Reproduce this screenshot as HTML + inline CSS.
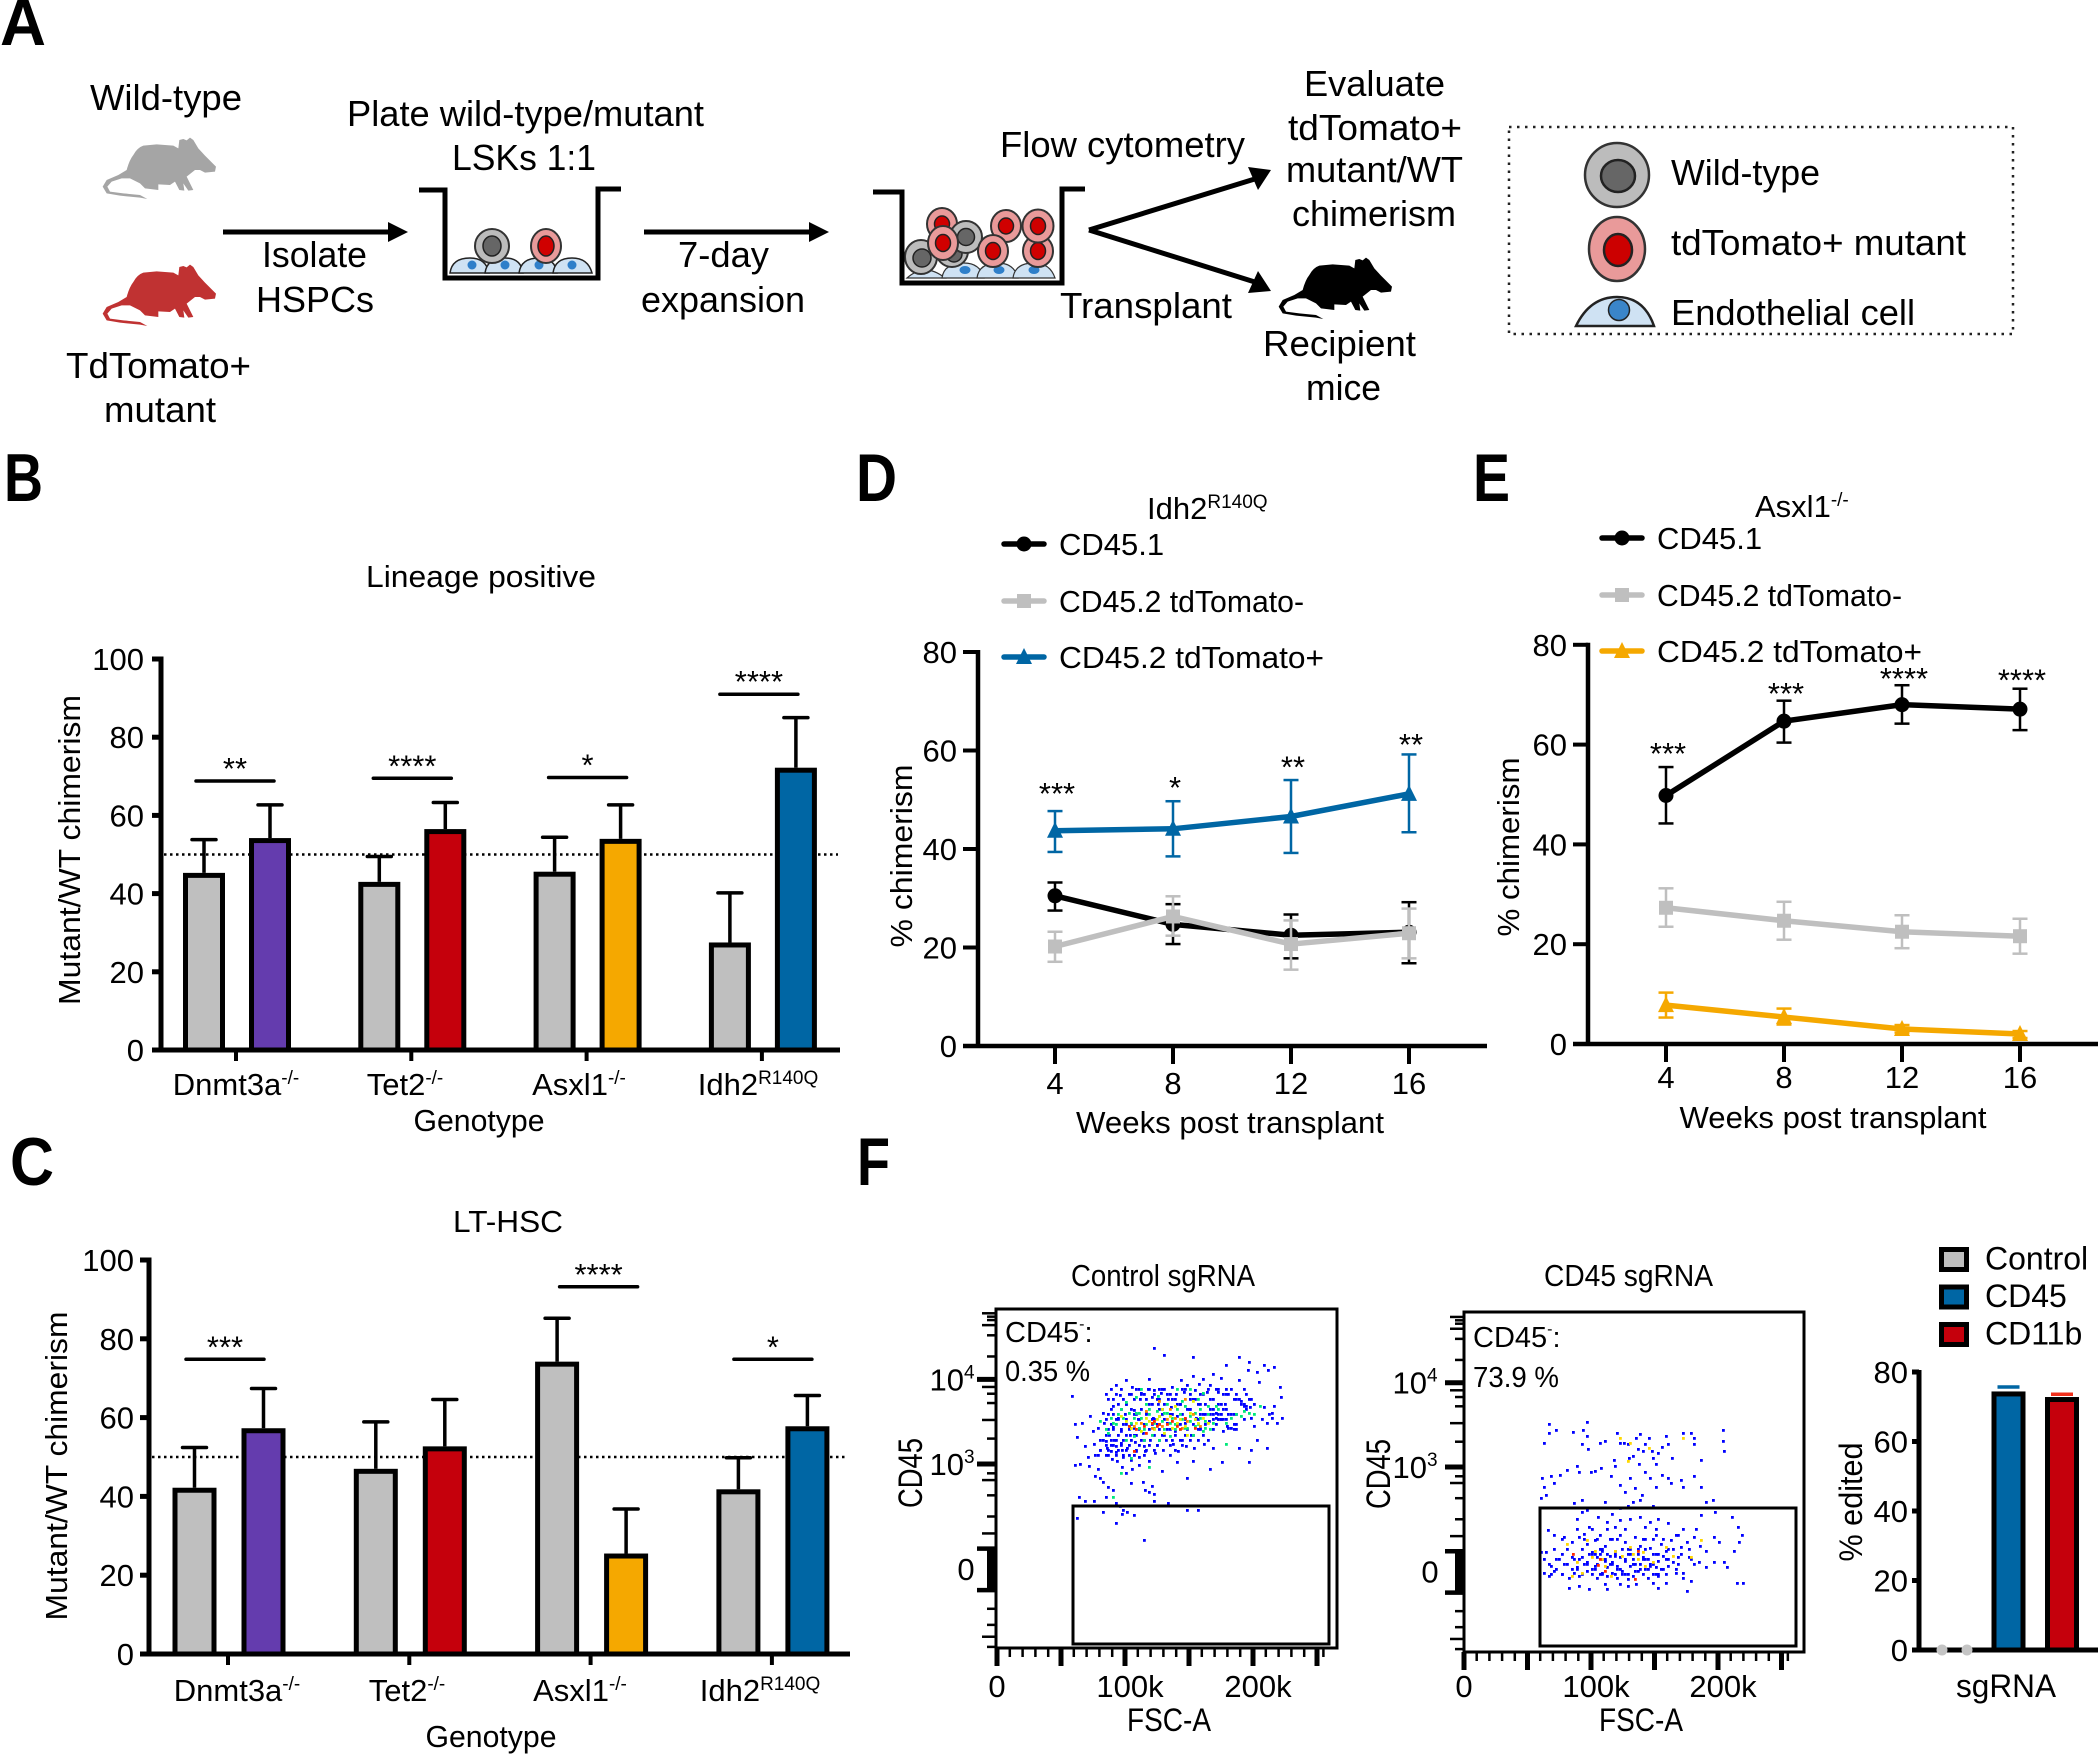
<!DOCTYPE html>
<html lang="en">
<head>
<meta charset="utf-8">
<title>Mutant/WT chimerism figure</title>
<style>
html,body{margin:0;padding:0;background:#fff;}
svg{display:block;font-family:"Liberation Sans",Arial,sans-serif;fill:#000;}
</style>
</head>
<body>
<svg id="fig" width="2100" height="1755" viewBox="0 0 2100 1755">
<rect x="0" y="0" width="2100" height="1755" fill="#fff"/>

<g font-weight="700">
<text x="0" y="45" font-size="66" textLength="46" lengthAdjust="spacingAndGlyphs">A</text>
<text x="4" y="501" font-size="68" textLength="39" lengthAdjust="spacingAndGlyphs">B</text>
<text x="10" y="1185" font-size="68" textLength="44" lengthAdjust="spacingAndGlyphs">C</text>
<text x="856" y="501" font-size="68" textLength="41" lengthAdjust="spacingAndGlyphs">D</text>
<text x="1473" y="501" font-size="68" textLength="37" lengthAdjust="spacingAndGlyphs">E</text>
<text x="857" y="1185" font-size="68" textLength="33" lengthAdjust="spacingAndGlyphs">F</text>
</g>

<g font-size="36">
<text x="90" y="110" textLength="152" lengthAdjust="spacingAndGlyphs">Wild-type</text>
<text x="347" y="126" textLength="357" lengthAdjust="spacingAndGlyphs">Plate wild-type/mutant</text>
<text x="452" y="170" textLength="144" lengthAdjust="spacingAndGlyphs">LSKs 1:1</text>
<text x="262" y="267" textLength="105" lengthAdjust="spacingAndGlyphs">Isolate</text>
<text x="256" y="312" textLength="118" lengthAdjust="spacingAndGlyphs">HSPCs</text>
<text x="678" y="267" textLength="91" lengthAdjust="spacingAndGlyphs">7-day</text>
<text x="641" y="312" textLength="164" lengthAdjust="spacingAndGlyphs">expansion</text>
<text x="66" y="378" textLength="185" lengthAdjust="spacingAndGlyphs">TdTomato+</text>
<text x="104" y="422" textLength="112" lengthAdjust="spacingAndGlyphs">mutant</text>
<text x="1000" y="157" textLength="245" lengthAdjust="spacingAndGlyphs">Flow cytometry</text>
<text x="1304" y="96" textLength="141" lengthAdjust="spacingAndGlyphs">Evaluate</text>
<text x="1288" y="140" textLength="174" lengthAdjust="spacingAndGlyphs">tdTomato+</text>
<text x="1286" y="182" textLength="177" lengthAdjust="spacingAndGlyphs">mutant/WT</text>
<text x="1292" y="226" textLength="164" lengthAdjust="spacingAndGlyphs">chimerism</text>
<text x="1060" y="318" textLength="172" lengthAdjust="spacingAndGlyphs">Transplant</text>
<text x="1263" y="356" textLength="153" lengthAdjust="spacingAndGlyphs">Recipient</text>
<text x="1306" y="400" textLength="75" lengthAdjust="spacingAndGlyphs">mice</text>

<path transform="translate(90,125) scale(.3333)" fill="#a5a5a5" d="M110 135 Q118 105 130 90 Q142 68 160 62 L200 58 L250 62 L265 70 L268 45 L280 42 L290 46 L300 38 L310 45 L325 70 L345 92 L378 125 L375 140 L345 143 L330 135 L315 135 L290 155 L310 195 L295 197 L280 175 L283 197 L268 195 L255 170 L240 180 L205 178 L205 195 L165 190 L150 175 L120 160 L95 160 L65 170 L52 185 L60 200 L100 205 L150 210 L172 222 L150 218 L90 212 L50 205 L38 185 L50 165 L85 150 Z"/>
<path transform="translate(90,252) scale(.3333)" fill="#c03232" d="M110 135 Q118 105 130 90 Q142 68 160 62 L200 58 L250 62 L265 70 L268 45 L280 42 L290 46 L300 38 L310 45 L325 70 L345 92 L378 125 L375 140 L345 143 L330 135 L315 135 L290 155 L310 195 L295 197 L280 175 L283 197 L268 195 L255 170 L240 180 L205 178 L205 195 L165 190 L150 175 L120 160 L95 160 L65 170 L52 185 L60 200 L100 205 L150 210 L172 222 L150 218 L90 212 L50 205 L38 185 L50 165 L85 150 Z"/>
<path transform="translate(1266,245) scale(.3333)" fill="#000" d="M110 135 Q118 105 130 90 Q142 68 160 62 L200 58 L250 62 L265 70 L268 45 L280 42 L290 46 L300 38 L310 45 L325 70 L345 92 L378 125 L375 140 L345 143 L330 135 L315 135 L290 155 L310 195 L295 197 L280 175 L283 197 L268 195 L255 170 L240 180 L205 178 L205 195 L165 190 L150 175 L120 160 L95 160 L65 170 L52 185 L60 200 L100 205 L150 210 L172 222 L150 218 L90 212 L50 205 L38 185 L50 165 L85 150 Z"/>

<g>
<line x1="223" y1="232" x2="395" y2="232" stroke="#000" stroke-width="5"/>
<polygon points="388,222 408,232 388,242" fill="#000"/>
</g>
<g>
<line x1="644" y1="232" x2="815" y2="232" stroke="#000" stroke-width="5"/>
<polygon points="809,222 829,232 809,242" fill="#000"/>
</g>
<g>
<line x1="1089" y1="230" x2="1258" y2="178" stroke="#000" stroke-width="5"/>
<line x1="1089" y1="230" x2="1258" y2="283" stroke="#000" stroke-width="5"/>
<polygon points="1248,167 1271,170 1258,190" fill="#000"/>
<polygon points="1258,271 1271,291 1248,293" fill="#000"/>
</g>

<g>
<g fill="#cfe2f3" stroke="#222" stroke-width="1.5">
<path d="M450 273 Q452 258 470 258 Q486 258 489 273 Z"/>
<path d="M485 273 Q487 258 505 258 Q521 258 523 273 Z"/>
<path d="M519 273 Q521 258 539 258 Q555 258 557 273 Z"/>
<path d="M553 273 Q555 258 572 258 Q588 258 592 273 Z"/>
</g>
<g fill="#2f7fc9">
<circle cx="472" cy="265" r="4.5"/>
<circle cx="505" cy="265" r="4.5"/>
<circle cx="539" cy="265" r="4.5"/>
<circle cx="572" cy="265" r="4.5"/>
</g>
<ellipse cx="492" cy="246" rx="17" ry="17" fill="#bcbcbc" stroke="#333" stroke-width="2"/>
<ellipse cx="492" cy="246" rx="9" ry="10" fill="#666" stroke="#222" stroke-width="1.5"/>
<ellipse cx="546" cy="246" rx="15" ry="17" fill="#e99a9a" stroke="#333" stroke-width="2"/>
<ellipse cx="546" cy="246" rx="8" ry="10" fill="#d00000" stroke="#222" stroke-width="1.5"/>
<polyline points="419,190 445,190 445,278 598,278 598,189 621,189" fill="none" stroke="#000" stroke-width="5"/>
</g>

<g>
<g fill="#cfe2f3" stroke="#333" stroke-width="1.2">
<path d="M907 278 Q925 262 945 278 Z"/>
<path d="M942 278 Q944 263 964 263 Q980 263 984 278 Z"/>
<path d="M977 278 Q979 263 998 263 Q1014 263 1018 278 Z"/>
<path d="M1013 278 Q1015 263 1034 263 Q1050 263 1055 278 Z"/>
</g>
<g fill="#2f7fc9">
<ellipse cx="965" cy="270" rx="5.5" ry="4"/>
<ellipse cx="999" cy="270" rx="5.5" ry="4"/>
<ellipse cx="1034" cy="270" rx="5.5" ry="4"/>
</g>
<circle cx="952" cy="251" r="16" fill="#bcbcbc" stroke="#333" stroke-width="2"/>
<circle cx="954" cy="254" r="8" fill="#666" stroke="#222" stroke-width="1.5"/>
<ellipse cx="921" cy="257" rx="16" ry="17" fill="#bcbcbc" stroke="#333" stroke-width="2"/>
<circle cx="922" cy="258" r="9" fill="#666" stroke="#222" stroke-width="1.5"/>
<ellipse cx="942" cy="224" rx="15" ry="16" fill="#e99a9a" stroke="#333" stroke-width="2"/>
<ellipse cx="942" cy="224" rx="7.5" ry="8" fill="#d00000" stroke="#222" stroke-width="1.5"/>
<circle cx="966" cy="237" r="16" fill="#bcbcbc" stroke="#333" stroke-width="2"/>
<circle cx="966" cy="237" r="8.5" fill="#666" stroke="#222" stroke-width="1.5"/>
<ellipse cx="943" cy="243" rx="15" ry="17" fill="#e99a9a" stroke="#333" stroke-width="2"/>
<ellipse cx="943" cy="243" rx="7.5" ry="8.5" fill="#d00000" stroke="#222" stroke-width="1.5"/>
<ellipse cx="1006" cy="226" rx="15" ry="16" fill="#e99a9a" stroke="#333" stroke-width="2"/>
<ellipse cx="1006" cy="226" rx="7.5" ry="8" fill="#d00000" stroke="#222" stroke-width="1.5"/>
<ellipse cx="993" cy="251" rx="15" ry="16" fill="#e99a9a" stroke="#333" stroke-width="2"/>
<ellipse cx="993" cy="251" rx="7.5" ry="8.5" fill="#d00000" stroke="#222" stroke-width="1.5"/>
<ellipse cx="1038" cy="251" rx="15" ry="16" fill="#e99a9a" stroke="#333" stroke-width="2"/>
<ellipse cx="1038" cy="251" rx="7.5" ry="8.5" fill="#d00000" stroke="#222" stroke-width="1.5"/>
<ellipse cx="1038" cy="226" rx="15.5" ry="16.5" fill="#e99a9a" stroke="#333" stroke-width="2"/>
<ellipse cx="1038" cy="226" rx="7.5" ry="8.5" fill="#d00000" stroke="#222" stroke-width="1.5"/>
<polyline points="873,192 902,192 902,283 1062,283 1062,189 1085,189" fill="none" stroke="#000" stroke-width="5"/>
</g>

<g>
<rect x="1509" y="127" width="504" height="207" fill="none" stroke="#222" stroke-width="2.5" stroke-dasharray="2.5 5.5"/>
<ellipse cx="1617" cy="175" rx="32" ry="32" fill="#bcbcbc" stroke="#333" stroke-width="2.5"/>
<ellipse cx="1618" cy="176" rx="17" ry="16" fill="#666" stroke="#222" stroke-width="2.5"/>
<ellipse cx="1617" cy="249" rx="28" ry="32" fill="#e99a9a" stroke="#333" stroke-width="2.5"/>
<ellipse cx="1618" cy="250" rx="14" ry="16" fill="#cc0000" stroke="#222" stroke-width="2.5"/>
<path d="M1576 326 Q1590 297 1617 297 Q1644 297 1654 326 Z" fill="#cfe2f3" stroke="#222" stroke-width="2.5"/>
<circle cx="1619" cy="310" r="10.5" fill="#3a85c9" stroke="#222" stroke-width="1.5"/>
<text x="1671" y="185" textLength="149" lengthAdjust="spacingAndGlyphs">Wild-type</text>
<text x="1671" y="255" textLength="295" lengthAdjust="spacingAndGlyphs">tdTomato+ mutant</text>
<text x="1671" y="325" textLength="244" lengthAdjust="spacingAndGlyphs">Endothelial cell</text>
</g>
</g>

<g id="panel-b">
<text x="366" y="587" font-size="31" textLength="230" lengthAdjust="spacingAndGlyphs">Lineage positive</text>
<text transform="translate(80,850) rotate(-90)" text-anchor="middle" font-size="31" textLength="310" lengthAdjust="spacingAndGlyphs">Mutant/WT chimerism</text>
<text x="479" y="1131" text-anchor="middle" font-size="31" textLength="131" lengthAdjust="spacingAndGlyphs">Genotype</text>
</g>
<g id="panel-c">
<text x="453" y="1232" font-size="31" textLength="110" lengthAdjust="spacingAndGlyphs">LT-HSC</text>
<text transform="translate(67,1466) rotate(-90)" text-anchor="middle" font-size="31" textLength="309" lengthAdjust="spacingAndGlyphs">Mutant/WT chimerism</text>
<text x="491" y="1747" text-anchor="middle" font-size="31" textLength="131" lengthAdjust="spacingAndGlyphs">Genotype</text>
</g>
<g id="panel-d">
<text x="1147" y="519" font-size="31">Idh2<tspan font-size="19" dy="-11">R140Q</tspan></text>
<text transform="translate(912,856) rotate(-90)" text-anchor="middle" font-size="31" textLength="183" lengthAdjust="spacingAndGlyphs">% chimerism</text>
<text x="1230" y="1133" text-anchor="middle" font-size="31" textLength="308" lengthAdjust="spacingAndGlyphs">Weeks post transplant</text>
</g>
<g id="panel-e">
<text x="1755" y="517" font-size="31">Asxl1<tspan font-size="19" dy="-11">-/-</tspan></text>
<text transform="translate(1519,847) rotate(-90)" text-anchor="middle" font-size="31" textLength="179" lengthAdjust="spacingAndGlyphs">% chimerism</text>
<text x="1833" y="1128" text-anchor="middle" font-size="31" textLength="307" lengthAdjust="spacingAndGlyphs">Weeks post transplant</text>
</g>
<g id="panel-f-control">
<text x="1071" y="1286" font-size="31" textLength="184" lengthAdjust="spacingAndGlyphs">Control sgRNA</text>
<text transform="translate(922,1473) rotate(-90)" text-anchor="middle" font-size="34" textLength="70" lengthAdjust="spacingAndGlyphs">CD45</text>
<text x="1169" y="1731" text-anchor="middle" font-size="32" textLength="84" lengthAdjust="spacingAndGlyphs">FSC-A</text>
<text x="1005" y="1342" font-size="29">CD45<tspan font-size="16" dy="-13">-</tspan><tspan dy="13">:</tspan></text>
<text x="1005" y="1381" font-size="29" textLength="85" lengthAdjust="spacingAndGlyphs">0.35 %</text>
</g>
<g id="panel-f-cd45">
<text x="1544" y="1286" font-size="31" textLength="169" lengthAdjust="spacingAndGlyphs">CD45 sgRNA</text>
<text transform="translate(1390,1474) rotate(-90)" text-anchor="middle" font-size="34" textLength="70" lengthAdjust="spacingAndGlyphs">CD45</text>
<text x="1641" y="1731" text-anchor="middle" font-size="32" textLength="84" lengthAdjust="spacingAndGlyphs">FSC-A</text>
<text x="1473" y="1347" font-size="29">CD45<tspan font-size="16" dy="-13">-</tspan><tspan dy="13">:</tspan></text>
<text x="1473" y="1387" font-size="29" textLength="86" lengthAdjust="spacingAndGlyphs">73.9 %</text>
</g>
<g id="panel-g">
<text transform="translate(1862,1502) rotate(-90)" text-anchor="middle" font-size="32" textLength="119" lengthAdjust="spacingAndGlyphs">% edited</text>
<text x="2006" y="1697" text-anchor="middle" font-size="32" textLength="100" lengthAdjust="spacingAndGlyphs">sgRNA</text>
</g>
</svg>

<script>
/* ---------- Panel B data ---------- */
const genotypeNames = ['Dnmt3a', 'Tet2', 'Asxl1', 'Idh2'];
const genotypeSupers = ['-/-', '-/-', '-/-', 'R140Q'];
const percentTicks = [0, 20, 40, 60, 80, 100];
const bWild = [45.3, 43, 45.6, 27.5];
const bMutant = [54.2, 56.5, 54, 72.2];
const bWildHi = [53.8, 49.5, 54.4, 40.2];
const bMutantHi = [62.7, 63.3, 62.7, 85];
const bStars = ['**', '****', '*', '****'];
const bSigLevels = [68.8, 69.5, 69.7, 91];
const bMutantColors = ['#643cae', '#c5000c', '#f5a800', '#0066a4'];

/* ---------- Panel C data ---------- */
const cWild = [42.2, 47, 74.2, 41.8];
const cMutant = [57.3, 52.7, 25.5, 57.8];
const cWildHi = [52.4, 58.9, 85.2, 49.8];
const cMutantHi = [67.4, 64.6, 36.8, 65.6];
const cStars = ['***', '', '****', '*'];
const cSigLevels = [74.8, 0, 93.2, 74.8];

/* ---------- Panels D and E data ---------- */
const weeks = [4, 8, 12, 16];
const chimerismTicks = [0, 20, 40, 60, 80];
const dBlackMean = [30.5, 24.7, 22.5, 23.1];
const dBlackHi = [33.2, 28.8, 26.7, 29.2];
const dBlackLo = [27.5, 20.7, 17.8, 16.8];
const dGrayMean = [20.2, 26.3, 20.7, 22.9];
const dGrayHi = [23.2, 30.4, 25.5, 27.9];
const dGrayLo = [17.1, 22.4, 15.5, 17.8];
const dBlueMean = [43.7, 44.1, 46.6, 51.2];
const dBlueHi = [47.7, 49.7, 54, 59.2];
const dBlueLo = [39.4, 38.5, 39.2, 43.4];
const dStars = ['***', '*', '**', '**'];
const dStarLevels = [52.6, 53.8, 58, 62.5];
const eBlackMean = [49.8, 64.7, 68, 67.1];
const eBlackHi = [55.5, 68.8, 71.9, 71.2];
const eBlackLo = [44.2, 60.4, 64.2, 62.9];
const eGrayMean = [27.3, 24.7, 22.5, 21.6];
const eGrayHi = [31.2, 28.5, 25.8, 25.1];
const eGrayLo = [23.5, 20.9, 19.2, 18.1];
const eOrangeMean = [7.8, 5.4, 3, 2];
const eOrangeHi = [10.3, 7.1, 3.8, 2.6];
const eOrangeLo = [5.3, 3.9, 2.3, 1.2];
const eStars = ['***', '***', '****', '****'];
const eStarLevels = [59.5, 71.5, 74.5, 74.2];
const seriesNames = ['CD45.1', 'CD45.2 tdTomato-', 'CD45.2 tdTomato+'];

/* ---------- Panel F percent-edited data ---------- */
const editedTicks = [0, 20, 40, 60, 80];
const editedControl = [0, 0];
const editedNames = ['CD45', 'CD11b'];
const editedValues = [74.4, 72.8];
const editedHi = [75.7, 73.6];
const editedLegend = ['Control', 'CD45', 'CD11b'];

/* ---------- Flow plot axes and events: [FSC-A in thousands, biexponential CD45 decades] ---------- */
const flowXMajor = [0, 50, 100, 150, 200, 250];
const flowXMinor = [10, 20, 30, 40, 60, 70, 80, 90, 110, 120, 130, 140, 160, 170, 180, 190, 210, 220, 230, 240, 255];
const flowYMinor = [4.78, 4.74, 4.70, 4.64, 4.52, 4.27, 3.91, 3.83, 3.72, 3.52, 3.30, 2.89, 2.81, 2.63, 2.38, 2.18, 1.29, 1.10, 0.96, 0.84];
const flowXLabels = ['0', '100k', '200k'];
const controlBlue = [[60,3.0],[64,3.01],[71,2.99],[78,2.95],[63,2.62],[68,2.58],[75,2.58],[76,2.87],[80,2.85],[82,2.8],[86,2.74],[90,2.7],[84,2.62],[92,2.55],[95,2.52],[98,2.47],[97,2.42],[101,2.44],[106,2.41],[82,2.44],[62,2.37],[92,2.32],[114,2.11],[120,2.75],[113,2.8],[115,2.7],[118,2.68],[122,2.66],[128,2.93],[122,2.58],[133,2.55],[148,2.47],[156,2.47],[140,3.03],[152,3.05],[166,2.95],[175,3.03],[148,2.85],[105,2.95],[100,2.9],[97,2.98],[110,3.0],[104,2.79],
[58,3.81],[60,3.48],[62,3.33],[66,3.5],[68,3.22],[70,3.1],[72,3.58],[74,3.4],[75,3.25],[76,3.12],[78,3.44],[80,3.3],[80,3.18],[82,3.62],[83,3.5],[84,3.28],[85,3.2],[86,3.12],[87,3.35],[88,3.24],[88,3.16],[89,3.07],[90,3.7],[90,3.45],[91,3.3],[92,3.22],[92,3.15],[93,3.05],[94,3.55],[95,3.83],[96,3.4],[96,3.26],[97,3.18],[98,3.1],[99,3.6],[100,3.72],[100,3.48],[101,3.2],[102,3.12],[103,3.36],[104,3.06],[105,3.92],[106,3.65],[106,3.44],[107,3.27],[108,3.17],[109,3.54],[110,3.1],[111,3.78],[112,3.85],[113,3.38],[114,3.22],[115,3.16],[116,3.62],[117,3.9],[118,3.05],[119,3.3],[120,3.48],[120,3.8],[121,3.55],[122,3.88],[123,3.14],[124,3.24],[125,3.72],[126,3.42],[127,3.85],[128,3.6],[129,3.18],[130,3.9],[131,3.3],[132,3.5],[133,3.78],[134,3.12],[135,3.68],[136,3.92],[137,3.25],[138,3.4],[139,3.84],[140,3.58],[141,3.16],[142,3.72],[143,4.0],[144,3.3],[145,3.86],[146,3.5],[147,3.22],[148,3.94],[149,3.66],[150,3.78],[151,3.36],[152,4.05],[153,3.2],[154,3.88],[155,3.56],[156,3.3],[157,3.96],[158,3.72],[158,3.44],[160,4.02],[161,3.25],[162,3.6],[163,3.86],[164,3.3],[165,3.52],[166,3.94],[166,3.6],[168,3.6],[168,3.54],[170,3.62],[170,3.56],[172,3.6],[172,3.54],[174,3.6],[174,3.54],[172,3.86],[174,4.03],[176,3.4],[177,3.72],[178,3.9],[179,3.46],[180,3.44],[182,3.44],[184,3.42],[186,3.42],[186,3.78],[188,4.0],[190,3.75],[192,3.7],[194,3.7],[196,4.22],[197,3.68],[198,3.55],[200,3.46],[202,4.1],[202,3.3],[204,3.98],[206,3.54],[208,3.68],[210,3.5],[212,3.6],[214,3.62],[214,3.56],[216,3.7],[216,4.16],[218,3.5],[221,3.8],[222,3.56],[211,4.12],[100,4.0],[92,3.95],[118,4.02],[122,4.38],[130,4.3],[152,4.28],[168,4.08],[178,4.18],[188,4.28],[195,4.12],[208,4.18],[220,3.92],[168,3.2],[188,3.2],[198,3.18],[196,3.03],[210,3.2]];
const controlBlueCore = [[88,3.9],[96,3.9],[108,3.9],[110,3.9],[118,3.9],[126,3.9],[128,3.9],[144,3.9],[146,3.9],[164,3.9],[170,3.9],[172,3.9],[182,3.9],[192,3.9],
[84,3.84],[92,3.84],[102,3.84],[104,3.84],[112,3.84],[114,3.84],[122,3.84],[132,3.84],[134,3.84],[150,3.84],[158,3.84],[160,3.84],[176,3.84],[178,3.84],[180,3.84],[186,3.84],[194,3.84],
[86,3.78],[90,3.78],[98,3.78],[106,3.78],[116,3.78],[124,3.78],[126,3.78],[136,3.78],[138,3.78],[152,3.78],[154,3.78],[166,3.78],[168,3.78],[184,3.78],[188,3.78],[196,3.78],[198,3.78],
[94,3.72],[100,3.72],[118,3.72],[120,3.72],[130,3.72],[140,3.72],[142,3.72],[156,3.72],[162,3.72],[172,3.72],[174,3.72],[190,3.72],[192,3.72],[200,3.72],
[88,3.66],[96,3.66],[104,3.66],[112,3.66],[126,3.66],[128,3.66],[148,3.66],[150,3.66],[166,3.66],[168,3.66],[176,3.66],[178,3.66],[194,3.66],
[86,3.6],[90,3.6],[106,3.6],[108,3.6],[116,3.6],[134,3.6],[136,3.6],[144,3.6],[158,3.6],[160,3.6],[180,3.6],[182,3.6],[184,3.6],[186,3.6],
[84,3.54],[92,3.54],[94,3.54],[100,3.54],[110,3.54],[120,3.54],[122,3.54],[130,3.54],[146,3.54],[154,3.54],[156,3.54],[172,3.54],[174,3.54],[176,3.54],[178,3.54],[192,3.54],
[88,3.48],[98,3.48],[104,3.48],[114,3.48],[124,3.48],[126,3.48],[140,3.48],[142,3.48],[152,3.48],[162,3.48],[170,3.48],[184,3.48],[186,3.48],
[86,3.42],[90,3.42],[96,3.42],[102,3.42],[110,3.42],[118,3.42],[132,3.42],[134,3.42],[148,3.42],[156,3.42],[158,3.42],[168,3.42],
[84,3.36],[94,3.36],[100,3.36],[106,3.36],[108,3.36],[122,3.36],[128,3.36],[130,3.36],[138,3.36],[146,3.36],[152,3.36],[160,3.36],
[82,3.3],[88,3.3],[92,3.3],[98,3.3],[104,3.3],[112,3.3],[114,3.3],[126,3.3],[136,3.3],[142,3.3],[150,3.3],
[84,3.24],[90,3.24],[96,3.24],[102,3.24],[110,3.24],[118,3.24],[124,3.24],[134,3.24],[144,3.24],
[80,3.18],[86,3.18],[94,3.18],[100,3.18],[108,3.18],[116,3.18],[122,3.18],[138,3.18],
[78,3.12],[84,3.12],[92,3.12],[98,3.12],[106,3.12],[114,3.12]];
const controlGreen = [[80,3.52],[84,3.42],[88,3.56],[92,3.48],[94,3.6],[98,3.55],[100,3.3],[102,3.62],[104,3.5],[106,3.34],[108,3.62],[110,3.44],[112,3.56],[114,3.3],[116,3.48],[118,3.6],[120,3.36],[122,3.5],[124,3.64],[126,3.3],[128,3.52],[130,3.42],[132,3.62],[134,3.34],[136,3.56],[138,3.48],[140,3.66],[142,3.42],[144,3.54],[146,3.7],[148,3.44],[150,3.58],[152,3.36],[154,3.62],[156,3.48],[158,3.66],[160,3.4],[162,3.52],[164,3.7],[166,3.42],[170,3.7],[178,3.5],[186,3.6],[196,3.62],[108,3.8],[112,3.9],[125,3.82],[140,3.9],[150,3.9],[160,3.85],[104,3.08],[96,2.9],[118,2.98],[90,2.62],[178,3.25],[190,3.58],[205,3.7],
[102,3.46],[106,3.56],[110,3.62],[114,3.42],[118,3.66],[122,3.44],[126,3.58],[130,3.62],[134,3.5],[138,3.42],[142,3.6],[146,3.44],[150,3.52],[154,3.46],[158,3.56],[162,3.44],[164,3.6],[168,3.5],[172,3.66],[182,3.56],[192,3.64],[200,3.6],[96,3.66],[100,3.74],[116,3.72],[132,3.72],[144,3.76],[156,3.78],[90,3.5],[86,3.38]];
const controlYellow = [[96,3.58],[104,3.44],[112,3.4],[118,3.52],[122,3.42],[126,3.58],[130,3.38],[136,3.44],[140,3.5],[146,3.46],[150,3.62],[156,3.5],[160,3.56],[108,3.5],[128,3.66],[138,3.7],[148,3.36],[152,3.76],[100,3.52],[116,3.56],[124,3.54],[134,3.58],[142,3.54],[154,3.54],[164,3.5]];
const controlOrange = [[106,3.46],[112,3.5],[120,3.44],[128,3.46],[132,3.54],[138,3.56],[144,3.44],[148,3.52],[152,3.6],[158,3.46],[116,3.64],[134,3.66],[126,3.76],[146,3.78]];
const controlRed = [[108,3.42],[114,3.46],[116,3.38],[120,3.5],[124,3.46],[132,3.48],[136,3.52],[142,3.42],[146,3.56],[106,3.16],[154,3.44],[102,3.46],[122,3.52],[126,3.48],[140,3.46]];
const cd45Blue = [[62,3.3],[66,3.52],[66,3.42],[72,3.45],[85,3.43],[93,3.45],[96,3.55],[96,3.38],[92,3.28],[97,3.22],[106,3.3],[110,3.32],[117,3.1],[120,3.42],[122,3.3],[125,3.3],[128,3.28],[129,3.12],[132,3.14],[135,3.35],[136,3.22],[137,3.05],[138,3.4],[140,3.2],[142,3.28],[145,3.36],[147,3.2],[148,3.12],[150,3.05],[152,3.18],[155,3.25],[158,3.38],[160,3.28],[163,3.12],[172,3.42],[178,3.42],[180,3.35],[180,3.28],[186,3.1],[203,3.45],[203,3.32],[204,3.2],
[61,2.88],[62,2.78],[68,2.9],[70,2.82],[75,2.92],[80,2.98],[88,3.02],[90,2.95],[99,2.95],[102,2.96],[107,3.0],[115,2.9],[118,3.02],[122,2.8],[126,2.72],[130,2.88],[134,2.76],[139,2.68],[142,2.95],[146,2.88],[150,2.78],[155,2.92],[160,2.88],[162,2.82],[170,2.86],[172,2.78],[180,2.9],[186,2.78],[190,2.6],[195,2.62],[60,2.65],[64,2.68],[86,2.58],[92,2.62],[96,2.5],[110,2.6],[116,2.45],[122,2.52],[128,2.55],[132,2.6],[138,2.62],[148,2.55],
[88,2.4],[92,2.48],[98,2.3],[105,2.42],[112,2.36],[118,2.3],[122,2.38],[130,2.4],[138,2.42],[142,2.3],[146,2.36],[152,2.4],[160,2.35],[168,2.2],[182,2.28],[186,2.44],[197,2.48],[210,2.42],[215,2.3],
[65,2.26],[70,2.2],[78,2.18],[84,2.12],[90,2.18],[94,2.22],[96,2.1],[102,2.14],[106,2.2],[110,2.08],[114,2.16],[118,2.02],[122,2.2],[126,2.12],[130,2.04],[134,2.18],[138,2.08],[142,2.16],[146,2.05],[150,2.2],[154,2.1],[158,2.02],[162,2.14],[166,2.2],[170,2.06],[175,2.12],[180,2.18],[185,2.08],[190,2.02],[196,2.18],[200,2.12],[212,2.02],[216,2.12],[218,2.2],
[60,2.0],[62,1.92],[64,2.0],[68,1.84],[72,1.92],[76,1.98],[80,1.86],[84,1.94],[88,1.82],[92,1.95],[96,1.88],[100,2.0],[102,1.84],[104,1.94],[106,1.98],[108,2.02],[110,1.9],[112,1.82],[114,1.96],[116,1.88],[118,1.96],[120,1.84],[122,1.94],[124,1.78],[126,1.9],[128,1.98],[130,1.84],[132,1.92],[134,1.78],[136,1.98],[138,1.86],[140,1.94],[142,1.8],[144,1.92],[146,1.84],[148,1.98],[150,1.82],[152,1.9],[156,1.96],[160,1.84],[164,1.88],[168,1.94],[172,1.76],[176,1.94],[180,1.86],[184,1.88],[190,1.82],[196,1.88],[204,1.88],[206,1.82],
[62,1.76],[66,1.72],[70,1.78],[76,1.74],[82,1.7],[86,1.76],[90,1.72],[96,1.78],[100,1.74],[104,1.7],[108,1.76],[112,1.72],[116,1.76],[120,1.7],[124,1.74],[128,1.68],[132,1.72],[136,1.78],[140,1.74],[144,1.7],[148,1.74],[152,1.72],[158,1.74],[166,1.76],[172,1.7],[178,1.66],[214,1.64],[219,1.64],[82,1.58],[90,1.6],[98,1.56],[110,1.62],[112,1.56],[122,1.62],[128,1.6],[135,1.62],[148,1.64],[152,1.58],[158,1.64],[175,1.54]];
const cd45BlueCore = [[88,2.28],[100,2.28],[112,2.28],[126,2.28],[150,2.28],[172,2.28],
[76,2.16],[94,2.16],[104,2.16],[116,2.16],[120,2.16],[140,2.16],[148,2.16],[156,2.16],
[70,2.04],[80,2.04],[92,2.04],[106,2.04],[108,2.04],[124,2.04],[128,2.04],[136,2.04],[142,2.04],[160,2.04],[164,2.04],[176,2.04],
[98,1.98],[100,1.98],[102,1.98],[112,1.98],[118,1.98],[130,1.98],[150,1.98],[152,1.98],[170,1.98],
[74,1.92],[86,1.92],[90,1.92],[108,1.92],[110,1.92],[126,1.92],[140,1.92],[142,1.92],[158,1.92],[160,1.92],[178,1.92],
[66,1.86],[78,1.86],[94,1.86],[96,1.86],[104,1.86],[114,1.86],[116,1.86],[132,1.86],[134,1.86],[146,1.86],[148,1.86],[168,1.86],
[72,1.8],[84,1.8],[88,1.8],[100,1.8],[102,1.8],[120,1.8],[122,1.8],[138,1.8],[144,1.8],[154,1.8],[156,1.8],[166,1.8],
[68,1.74],[76,1.74],[92,1.74],[106,1.74],[108,1.74],[118,1.74],[126,1.74],[128,1.74],[150,1.74],[152,1.74]];
const cd45Yellow = [[122,3.35],[130,3.3],[128,3.08],[145,3.24],[172,3.35],[80,2.1],[88,1.88],[96,2.14],[100,1.95],[108,1.92],[110,1.84],[118,2.02],[130,2.06],[136,1.92],[140,2.0],[148,1.88],[158,2.06],[178,1.94],[186,2.14],[92,1.76],[115,1.72],[84,1.72],[102,2.02],[124,1.96],[132,1.98],[142,1.84],[164,1.96]];
const cd45Red = [[85,1.98],[105,1.85],[110,1.78],[136,2.02],[134,1.68],[106,1.92]];

const NS = 'http://www.w3.org/2000/svg';
function mk(tag, attrs, parent) {
  const el = document.createElementNS(NS, tag);
  for (const k in attrs) el.setAttribute(k, attrs[k]);
  parent.appendChild(el);
  return el;
}

/* ---------- Grouped bar panels ---------- */
function drawBars(cfg) {
  const g = document.getElementById(cfg.id);
  const y = v => cfg.y0 - v * cfg.unit;
  const groupX = i => cfg.center0 + i * cfg.step;
  for (const t of percentTicks) {
    const tick = mk('line', {x1: cfg.tickLeft, x2: cfg.axisX, y1: y(t), y2: y(t), stroke: '#000', 'stroke-width': 5}, g);
    
    
    const label = mk('text', {x: cfg.labelRight, y: y(t) + 11, 'text-anchor': 'end', 'font-size': 31}, g);
    label.textContent = t;
    
    
  }
  const dotted = mk('line', {x1: cfg.axisX + 3, x2: cfg.xEnd - 2, y1: y(50), y2: y(50), stroke: '#000', 'stroke-width': 2.5, 'stroke-dasharray': '2.5 3.5'}, g);
  
  
  genotypeNames.forEach((name, i) => {
    const pairs = [
      {x: groupX(i) + cfg.offA, v: cfg.wild[i], hi: cfg.wildHi[i], fill: '#bfbfbf'},
      {x: groupX(i) + cfg.offB, v: cfg.mutant[i], hi: cfg.mutantHi[i], fill: bMutantColors[i]}
    ];
    pairs.forEach(p => {
      const err = mk('line', {x1: p.x, x2: p.x, y1: y(p.v), y2: y(p.hi), stroke: '#000', 'stroke-width': 3.5}, g);
      
      
      const cap = mk('line', {x1: p.x - 12, x2: p.x + 12, y1: y(p.hi), y2: y(p.hi), stroke: '#000', 'stroke-width': 3.5, 'stroke-linecap': 'round'}, g);
      
      
      const bar = mk('rect', {x: p.x - cfg.barW / 2 + 2.5, y: y(p.v) + 2.5, width: cfg.barW - 5, height: Math.max(0, cfg.y0 - y(p.v) - 2.5), fill: p.fill, stroke: '#000', 'stroke-width': 5}, g);
      
      
    });
    const xTick = mk('line', {x1: groupX(i), x2: groupX(i), y1: cfg.y0, y2: cfg.y0 + 11, stroke: '#000', 'stroke-width': 4}, g);
    
    
    const cat = mk('text', {x: cfg.catX[i], y: cfg.catY, 'text-anchor': 'middle', 'font-size': 31}, g);
    
    
    cat.textContent = name;
    const sup = mk('tspan', {'font-size': 19, dy: -11}, cat);
    sup.textContent = genotypeSupers[i];
    
    
    if (cfg.stars[i]) {
      const mid = groupX(i) + cfg.sigShift[i];
      const sig = mk('line', {x1: mid - 39, x2: mid + 39, y1: y(cfg.sigLevels[i]), y2: y(cfg.sigLevels[i]), stroke: '#000', 'stroke-width': 3.5, 'stroke-linecap': 'round'}, g);
      
      
      const star = mk('text', {x: mid, y: y(cfg.sigLevels[i]) - 2, 'text-anchor': 'middle', 'font-size': 31}, g);
      star.textContent = cfg.stars[i];
      
      
    }
  });
  const yAxis = mk('line', {x1: cfg.axisX, x2: cfg.axisX, y1: y(100) - 2.5, y2: cfg.y0 + 2.5, stroke: '#000', 'stroke-width': 5}, g);
  
  
  const xAxis = mk('line', {x1: cfg.tickLeft, x2: cfg.xEnd, y1: cfg.y0, y2: cfg.y0, stroke: '#000', 'stroke-width': 5}, g);
  
  
}
drawBars({id: 'panel-b', y0: 1050, unit: 3.91, axisX: 161, tickLeft: 152, labelRight: 144, xEnd: 840, center0: 236, step: 175.3, offA: -32, offB: 34, barW: 42, wild: bWild, mutant: bMutant, wildHi: bWildHi, mutantHi: bMutantHi, stars: bStars, sigLevels: bSigLevels, sigShift: [-1, 1, 1, -3], catX: [236, 405, 579, 758], catY: 1095});
drawBars({id: 'panel-c', y0: 1654, unit: 3.94, axisX: 149, tickLeft: 140, labelRight: 134, xEnd: 850, center0: 228, step: 181.3, offA: -33.5, offB: 35.5, barW: 44, wild: cWild, mutant: cMutant, wildHi: cWildHi, mutantHi: cMutantHi, stars: cStars, sigLevels: cSigLevels, sigShift: [-3, 0, 8, 1], catX: [237, 407, 580, 760], catY: 1701});

/* ---------- Line panels ---------- */
function drawLines(cfg) {
  const g = document.getElementById(cfg.id);
  const x = w => cfg.x4 + (w - 4) * cfg.xUnit;
  const y = v => cfg.y0 - v * cfg.unit;
  function marker(kind, cx, cy, color, parent) {
    if (kind === 'circle') return mk('circle', {cx: cx, cy: cy, r: 7.5, fill: color}, parent);
    if (kind === 'square') return mk('rect', {x: cx - 7, y: cy - 7, width: 14, height: 14, fill: color}, parent);
    return mk('polygon', {points: (cx - 8) + ',' + (cy + 7) + ' ' + cx + ',' + (cy - 9) + ' ' + (cx + 8) + ',' + (cy + 7), fill: color}, parent);
  }
  for (const t of chimerismTicks) {
    const tick = mk('line', {x1: cfg.axisX - 15, x2: cfg.axisX, y1: y(t), y2: y(t), stroke: '#000', 'stroke-width': 4}, g);
    
    
    const label = mk('text', {x: cfg.labelRight, y: y(t) + 11, 'text-anchor': 'end', 'font-size': 31}, g);
    label.textContent = t;
    
    
  }
  weeks.forEach(w => {
    const tick = mk('line', {x1: x(w), x2: x(w), y1: cfg.y0, y2: cfg.y0 + 18, stroke: '#000', 'stroke-width': 4}, g);
    
    
    const label = mk('text', {x: x(w), y: cfg.xLabelY, 'text-anchor': 'middle', 'font-size': 31}, g);
    label.textContent = w;
    
    
  });
  const yAxis = mk('line', {x1: cfg.axisX, x2: cfg.axisX, y1: y(80) - 2, y2: cfg.y0 + 2, stroke: '#000', 'stroke-width': 4.5}, g);
  
  
  const xAxis = mk('line', {x1: cfg.axisX - 15, x2: cfg.xEnd, y1: cfg.y0, y2: cfg.y0, stroke: '#000', 'stroke-width': 4.5}, g);
  
  
  cfg.series.forEach((s, idx) => {
    weeks.forEach((w, i) => {
      const err = mk('line', {x1: x(w), x2: x(w), y1: y(s.hi[i]), y2: y(s.lo[i]), stroke: s.color, 'stroke-width': 2.5}, g);
      
      
      [s.hi[i], s.lo[i]].forEach(v => {
        const cap = mk('line', {x1: x(w) - 7.5, x2: x(w) + 7.5, y1: y(v), y2: y(v), stroke: s.color, 'stroke-width': 2.5}, g);
        
        
      });
    });
    const line = mk('polyline', {points: weeks.map((w, i) => x(w) + ',' + y(s.mean[i])).join(' '), fill: 'none', stroke: s.color, 'stroke-width': 5.5}, g);
    
    
    weeks.forEach((w, i) => {
      const pt = marker(s.kind, x(w), y(s.mean[i]), s.color, g);
      
      
    });
    const ly = cfg.legendY[idx];
    const swatch = mk('line', {x1: cfg.legendX, x2: cfg.legendX + 40, y1: ly, y2: ly, stroke: s.color, 'stroke-width': 5.5, 'stroke-linecap': 'round'}, g);
    
    
    const lm = marker(s.kind, cfg.legendX + 20, ly, s.color, g);
    
    
    const lt = mk('text', {x: cfg.legendX + 55, y: ly + 11, 'font-size': 31}, g);
    lt.textContent = seriesNames[idx];
    
    
    if (idx > 0) {
      lt.setAttribute('textLength', idx === 1 ? 245 : 265);
      lt.setAttribute('lengthAdjust', 'spacingAndGlyphs');
    }
  });
  weeks.forEach((w, i) => {
    const star = mk('text', {x: x(w) + 2, y: y(cfg.starLevels[i]) + 17, 'text-anchor': 'middle', 'font-size': 31}, g);
    star.textContent = cfg.stars[i];
    
    
  });
}
drawLines({id: 'panel-d', x4: 1055, xUnit: 29.5, y0: 1046, unit: 4.925, axisX: 978, xEnd: 1487, labelRight: 957, xLabelY: 1094, legendX: 1004, legendY: [544, 601, 657], stars: dStars, starLevels: dStarLevels,
  series: [{kind: 'circle', color: '#000', mean: dBlackMean, hi: dBlackHi, lo: dBlackLo}, {kind: 'square', color: '#bfbfbf', mean: dGrayMean, hi: dGrayHi, lo: dGrayLo}, {kind: 'triangle', color: '#0066a4', mean: dBlueMean, hi: dBlueHi, lo: dBlueLo}]
});
drawLines({id: 'panel-e', x4: 1666, xUnit: 29.5, y0: 1044, unit: 4.99, axisX: 1588, xEnd: 2098, labelRight: 1567, xLabelY: 1088, legendX: 1602, legendY: [538, 595, 651], stars: eStars, starLevels: eStarLevels,
  series: [{kind: 'circle', color: '#000', mean: eBlackMean, hi: eBlackHi, lo: eBlackLo}, {kind: 'square', color: '#bfbfbf', mean: eGrayMean, hi: eGrayHi, lo: eGrayLo}, {kind: 'triangle', color: '#f5a800', mean: eOrangeMean, hi: eOrangeHi, lo: eOrangeLo}]
});

/* ---------- Flow cytometry panels ---------- */
function drawFlow(cfg) {
  const g = document.getElementById(cfg.id);
  const x = k => cfg.x0 + k * cfg.xUnit;
  const y = v => cfg.yAt3 - (v - 3) * cfg.yUnit;
  cfg.events.forEach(ev => {
    ev.pts.forEach(p => {
      const dot = mk('rect', {x: Math.round(x(p[0])), y: Math.round(y(p[1])), width: cfg.dot, height: cfg.dot, fill: ev.color}, g);
      
      
    });
  });
  const box = mk('rect', {x: cfg.box[0], y: cfg.box[1], width: cfg.box[2] - cfg.box[0], height: cfg.box[3] - cfg.box[1], fill: 'none', stroke: '#000', 'stroke-width': 3}, g);
  
  
  const gate = mk('rect', {x: cfg.gate[0], y: cfg.gate[1], width: cfg.gate[2] - cfg.gate[0], height: cfg.gate[3] - cfg.gate[1], fill: 'none', stroke: '#000', 'stroke-width': 3}, g);
  
  
  flowXMajor.forEach(k => {
    const t = mk('line', {x1: x(k), x2: x(k), y1: cfg.box[3], y2: cfg.box[3] + 18, stroke: '#000', 'stroke-width': 5}, g);
    
    
  });
  flowXMinor.forEach(k => {
    const t = mk('line', {x1: x(k), x2: x(k), y1: cfg.box[3], y2: cfg.box[3] + 9, stroke: '#000', 'stroke-width': 2.5}, g);
    
    
  });
  flowYMinor.forEach((v, i) => {
    const len = i % 3 === 0 ? 14 : 9;
    const t = mk('line', {x1: cfg.box[0] - len, x2: cfg.box[0], y1: y(v), y2: y(v), stroke: '#000', 'stroke-width': 2.5}, g);
    
    
  });
  [3, 4].forEach(v => {
    const t = mk('line', {x1: cfg.box[0] - 19, x2: cfg.box[0], y1: y(v), y2: y(v), stroke: '#000', 'stroke-width': 5}, g);
    
    
    const lab = mk('text', {x: cfg.box[0] - cfg.expOff, y: y(v) + 11, 'text-anchor': 'middle', 'font-size': 31}, g);
    lab.textContent = '10';
    
    
    const sup = mk('tspan', {'font-size': 19, dy: -12}, lab);
    sup.textContent = v;
    
    
  });
  const zeroBlock = mk('rect', {x: cfg.box[0] - 9, y: y(2.0), width: 9, height: y(1.51) - y(2.0), fill: '#000'}, g);
  
  
  [2.0, 1.51].forEach(v => {
    const t = mk('line', {x1: cfg.box[0] - 19, x2: cfg.box[0], y1: y(v), y2: y(v), stroke: '#000', 'stroke-width': 4.5}, g);
    
    
  });
  const zero = mk('text', {x: cfg.box[0] - cfg.zeroOff, y: y(1.76) + 11, 'text-anchor': 'middle', 'font-size': 31}, g);
  zero.textContent = '0';
  
  
  flowXLabels.forEach((t, i) => {
    const lab = mk('text', {x: x(i * 100) + (i ? 5 : 0), y: 1697, 'text-anchor': 'middle', 'font-size': 31}, g);
    lab.textContent = t;
    
    
  });
}
drawFlow({id: 'panel-f-control', x0: 997, xUnit: 1.28, yAt3: 1464, yUnit: 84.67, box: [996, 1309, 1337, 1648], gate: [1073, 1506, 1329, 1644], dot: 2.8, expOff: 44, zeroOff: 30,
  events: [{color: '#0000ff', pts: controlBlue}, {color: '#0000ff', pts: controlBlueCore}, {color: '#00e87a', pts: controlGreen}, {color: '#e6f000', pts: controlYellow}, {color: '#ff8a00', pts: controlOrange}, {color: '#ff2a00', pts: controlRed}]});
drawFlow({id: 'panel-f-cd45', x0: 1464, xUnit: 1.27, yAt3: 1467, yUnit: 84.3, box: [1464, 1312, 1804, 1652], gate: [1540, 1508, 1796, 1646], dot: 2.8, expOff: 49, zeroOff: 34,
  events: [{color: '#0000ff', pts: cd45Blue}, {color: '#0000ff', pts: cd45BlueCore}, {color: '#ffd800', pts: cd45Yellow}, {color: '#ff2a00', pts: cd45Red}]});

/* ---------- Percent edited panel ---------- */
(function drawEdited() {
  const g = document.getElementById('panel-g');
  const y = v => 1650 - v * 3.475;
  const colors = ['#0066a4', '#c5000c'];
  const capColors = ['#0066a4', '#f0301c'];
  const legendFill = ['#bfbfbf', '#0066a4', '#c5000c'];
  editedTicks.forEach(t => {
    const tick = mk('line', {x1: 1912, x2: 1919, y1: y(t), y2: y(t), stroke: '#000', 'stroke-width': 5}, g);
    
    
    const lab = mk('text', {x: 1908, y: y(t) + 11, 'text-anchor': 'end', 'font-size': 31}, g);
    lab.textContent = t;
    
    
  });
  editedNames.forEach((name, i) => {
    const cx = 2008.5 + i * 53.5;
    const cap = mk('line', {x1: cx - 11, x2: cx + 11, y1: y(editedHi[i]), y2: y(editedHi[i]), stroke: capColors[i], 'stroke-width': 3.5}, g);
    
    
    const bar = mk('rect', {x: cx - 14.5, y: y(editedValues[i]) + 2.5, width: 29, height: 1650 - y(editedValues[i]) - 2.5, fill: colors[i], stroke: '#000', 'stroke-width': 5}, g);
    
    
  });
  const yAxis = mk('line', {x1: 1919, x2: 1919, y1: y(80) - 2, y2: 1652, stroke: '#000', 'stroke-width': 5}, g);
  
  
  const xAxis = mk('line', {x1: 1912, x2: 2098, y1: 1650, y2: 1650, stroke: '#000', 'stroke-width': 5}, g);
  
  
  editedControl.forEach((v, i) => {
    const pt = mk('circle', {cx: 1942 + i * 25, cy: y(v), r: 5.5, fill: '#c4c4c4'}, g);
    
    
  });
  editedLegend.forEach((name, i) => {
    const ly = 1259.5 + i * 37.5;
    const sw = mk('rect', {x: 1941.5, y: ly - 10, width: 25, height: 20, fill: legendFill[i], stroke: '#000', 'stroke-width': 5}, g);
    
    
    const lab = mk('text', {x: 1985, y: ly + 10, 'font-size': 32}, g);
    lab.textContent = name;
    
    
  });
})();
</script>
</body>
</html>
